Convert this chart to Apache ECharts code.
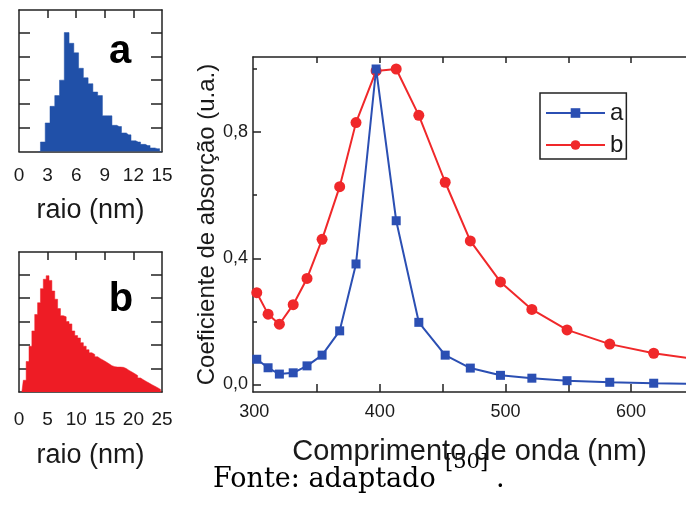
<!DOCTYPE html>
<html><head><meta charset="utf-8">
<script src="https://cdn.jsdelivr.net/npm/echarts@6/dist/echarts.min.js"></script>
<style>html,body{margin:0;padding:0;background:#fff}#c{width:686px;height:515px}</style>
</head><body><div id="c"></div>
<script>
// Histogram a: radius bin centres (nm) and counts (arbitrary units)
const histA_radius = [2.0,2.5,3.0,3.5,4.0,4.5,5.0,5.5,6.0,6.5,7.0,7.5,8.0,8.5,9.0,9.5,10.0,10.5,11.0,11.5,12.0,12.5,13.0,13.5,14.0,14.5,15.0];
const histA_count  = [0,0.4,1.2,1.9,2.35,3.0,5.0,4.55,4.15,3.5,3.1,2.85,2.5,2.35,1.5,1.5,1.1,1.05,0.78,0.7,0.45,0.4,0.3,0.25,0.15,0.12,0];
const histA_ticks  = [0,3,6,9,12,15];

// Histogram b
const histB_radius = [0.5,1.0,1.5,2.0,2.5,3.0,3.5,4.0,4.5,5.0,5.5,6.0,6.5,7.0,7.5,8.0,8.5,9.0,9.5,10.0,10.5,11.0,11.5,12.0,12.5,13.0,13.5,14.0,14.5,15.0,15.5,16.0,16.5,17.0,17.5,18.0,18.5,19.0,19.5,20.0,20.5,21.0,21.5,22.0,22.5,23.0,23.5,24.0,24.5,25.0];
const histB_count  = [0,0.5,1.3,1.95,2.6,3.3,3.8,4.4,4.8,4.95,4.75,4.3,3.95,3.55,3.25,3.2,3.0,2.9,2.6,2.4,2.3,2.1,1.95,1.8,1.67,1.6,1.5,1.42,1.35,1.28,1.2,1.12,1.08,1.06,1.06,1.05,1.0,0.92,0.85,0.78,0.7,0.6,0.52,0.45,0.38,0.31,0.25,0.18,0.11,0];
const histB_ticks  = [0,5,10,15,20,25];

// Absorption spectra
const wavelength = [302,311,320,331,342,354,368,381,397,413,431,452,472,496,521,549,583,618,661];
const absorb_a   = [0.080,0.053,0.033,0.037,0.059,0.093,0.170,0.382,1.000,0.519,0.197,0.093,0.052,0.029,0.020,0.012,0.007,0.004,0.001];
const absorb_b   = [0.291,0.223,0.191,0.253,0.336,0.460,0.627,0.830,0.994,1.000,0.853,0.641,0.455,0.325,0.238,0.173,0.128,0.099,0.075];
const xTickLabels = [300,400,500,600];
const xTicks      = [350,400,450,500,550,600];
const yTickLabels = [0.0,0.4,0.8];
const yMinorTicks = [0.2,0.6,1.0];
const seriesNames = ['a','b'];

const zip = (xs, ys) => xs.map((x, i) => [x, ys[i]]);
const FONT = '"Liberation Sans", Arial, Helvetica, sans-serif';
const NARROW = '"Liberation Sans Narrow", "Arial Narrow", "Liberation Sans", sans-serif';
const INK = '#1a1a1a';
const BLUE = '#2b4fb3', RED = '#f0282a';

const frameLine = {show: true, onZero: false, lineStyle: {color: '#222', width: 1.5}};

function histX(gridIndex, max, interval, ticks, margin, gap) {
  return [
    {gridIndex, type: 'value', min: 0, max, interval, position: 'bottom',
     axisLine: frameLine, axisTick: {show: false}, splitLine: {show: false},
     axisLabel: {color: INK, fontFamily: NARROW, fontSize: 19, margin, customValues: ticks},
     name: 'raio (nm)', nameLocation: 'middle', nameGap: gap, nameMoveOverlap: false,
     nameTextStyle: {color: INK, fontFamily: FONT, fontSize: 27}},
    {gridIndex, type: 'value', min: 0, max, position: 'top',
     axisLine: frameLine, splitLine: {show: false}, axisLabel: {show: false},
     axisTick: {show: true, inside: true, length: 8, lineStyle: {color: '#222', width: 1.5},
                customValues: ticks.slice(1, -1)}}
  ];
}
function histY(gridIndex, max) {
  const t = {show: true, inside: true, length: 11, lineStyle: {color: '#222', width: 1.5}, customValues: [1,2,3,4,5]};
  return [
    {gridIndex, type: 'value', min: 0, max, position: 'left', axisLine: frameLine,
     axisTick: t, axisLabel: {show: false}, splitLine: {show: false}},
    {gridIndex, type: 'value', min: 0, max, position: 'right', axisLine: frameLine,
     axisTick: t, axisLabel: {show: false}, splitLine: {show: false}}
  ];
}

const yMin = -0.0238, yMax = 1.038;
const option = {
  animation: false,
  backgroundColor: '#fff',
  grid: [
    {left: 19, top: 10, width: 143, height: 141.5},
    {left: 19, top: 252, width: 143, height: 140},
    {left: 253, top: 57, width: 433, height: 335}
  ],
  xAxis: [
    ...histX(0, 15, 3, histA_ticks, 15, 46),
    ...histX(1, 25, 5, histB_ticks, 18, 50),
    {gridIndex: 2, type: 'value', min: 299, max: 643.7, position: 'bottom',
     axisLine: frameLine, splitLine: {show: false},
     axisTick: {show: true, inside: true, length: 8, lineStyle: {color: '#222', width: 1.5}, customValues: xTicks},
     axisLabel: {color: INK, fontFamily: FONT, fontSize: 18, margin: 11, customValues: xTickLabels},
     name: 'Comprimento de onda (nm)', nameLocation: 'middle', nameGap: 45, nameMoveOverlap: false,
     nameTextStyle: {color: INK, fontFamily: FONT, fontSize: 29}},
    {gridIndex: 2, type: 'value', min: 299, max: 643.7, position: 'top',
     axisLine: frameLine, splitLine: {show: false}, axisLabel: {show: false},
     axisTick: {show: true, inside: true, length: 6, lineStyle: {color: '#222', width: 1.5}, customValues: xTicks}}
  ],
  yAxis: [
    ...histY(0, 5.95),
    ...histY(1, 5.96),
    {gridIndex: 2, type: 'value', min: yMin, max: yMax, position: 'left',
     axisLine: frameLine, splitLine: {show: false},
     axisTick: {show: true, inside: true, length: 8, lineStyle: {color: '#222', width: 1.5}, customValues: yTickLabels},
     axisLabel: {color: INK, fontFamily: FONT, fontSize: 18, margin: 5, customValues: yTickLabels,
                 formatter: v => v.toFixed(1).replace('.', ',')},
     name: 'Coeficiente de absorção (u.a.)', nameLocation: 'middle', nameGap: 34, nameMoveOverlap: false,
     nameTextStyle: {color: INK, fontFamily: FONT, fontSize: 24}},
    {gridIndex: 2, type: 'value', min: yMin, max: yMax, position: 'left',
     axisLine: {show: false}, splitLine: {show: false}, axisLabel: {show: false},
     axisTick: {show: true, inside: true, length: 4, lineStyle: {color: '#222', width: 1.5}, customValues: yMinorTicks}}
  ],
  legend: {
    data: seriesNames, left: 540, top: 93, orient: 'vertical',
    itemWidth: 59, itemHeight: 12, itemGap: 8,
    padding: [8, 3, 2, 5],
    borderColor: '#222', borderWidth: 1.5, backgroundColor: '#fff',
    textStyle: {fontFamily: FONT, fontSize: 24, color: INK, lineHeight: 24}
  },
  series: [
    {type: 'line', xAxisIndex: 0, yAxisIndex: 0, step: 'middle', symbol: 'none',
     data: zip(histA_radius, histA_count), lineStyle: {width: 0.5, color: '#2050a8'},
     areaStyle: {color: '#2050a8', opacity: 1}, z: 1},
    {type: 'line', xAxisIndex: 2, yAxisIndex: 2, step: 'middle', symbol: 'none',
     data: zip(histB_radius, histB_count), lineStyle: {width: 0.5, color: '#ee1c25'},
     areaStyle: {color: '#ee1c25', opacity: 1}, z: 1},
    {name: seriesNames[0], type: 'line', xAxisIndex: 4, yAxisIndex: 4,
     data: zip(wavelength, absorb_a), symbol: 'rect', symbolSize: 9,
     color: BLUE, lineStyle: {width: 2, color: BLUE}, itemStyle: {color: BLUE}, z: 3},
    {name: seriesNames[1], type: 'line', xAxisIndex: 4, yAxisIndex: 4,
     data: zip(wavelength, absorb_b), symbol: 'circle', symbolSize: 11,
     color: RED, lineStyle: {width: 2, color: RED}, itemStyle: {color: RED}, z: 2}
  ],
  graphic: [
    {type: 'text', x: 120, y: 52, z: 10,
     style: {text: 'a', align: 'center', verticalAlign: 'middle', fill: '#000',
             font: 'bold 40px "Liberation Sans", Arial, sans-serif'}},
    {type: 'text', x: 121, y: 300, z: 10,
     style: {text: 'b', align: 'center', verticalAlign: 'middle', fill: '#000',
             font: 'bold 40px "Liberation Sans", Arial, sans-serif'}},
    {type: 'text', x: 213, y: 480,
     style: {text: 'Fonte: adaptado', align: 'left', verticalAlign: 'middle', fill: '#000',
             font: '27px "DejaVu Serif", serif'}},
    {type: 'text', x: 445, y: 463,
     style: {text: '[50]', align: 'left', verticalAlign: 'middle', fill: '#000',
             font: '21px "DejaVu Serif", serif'}},
    {type: 'text', x: 496, y: 480,
     style: {text: '.', align: 'left', verticalAlign: 'middle', fill: '#000',
             font: '27px "DejaVu Serif", serif'}}
  ]
};
const chart = echarts.init(document.getElementById('c'), null, {renderer: 'canvas'});
chart.setOption(option);
</script>
</body></html>
